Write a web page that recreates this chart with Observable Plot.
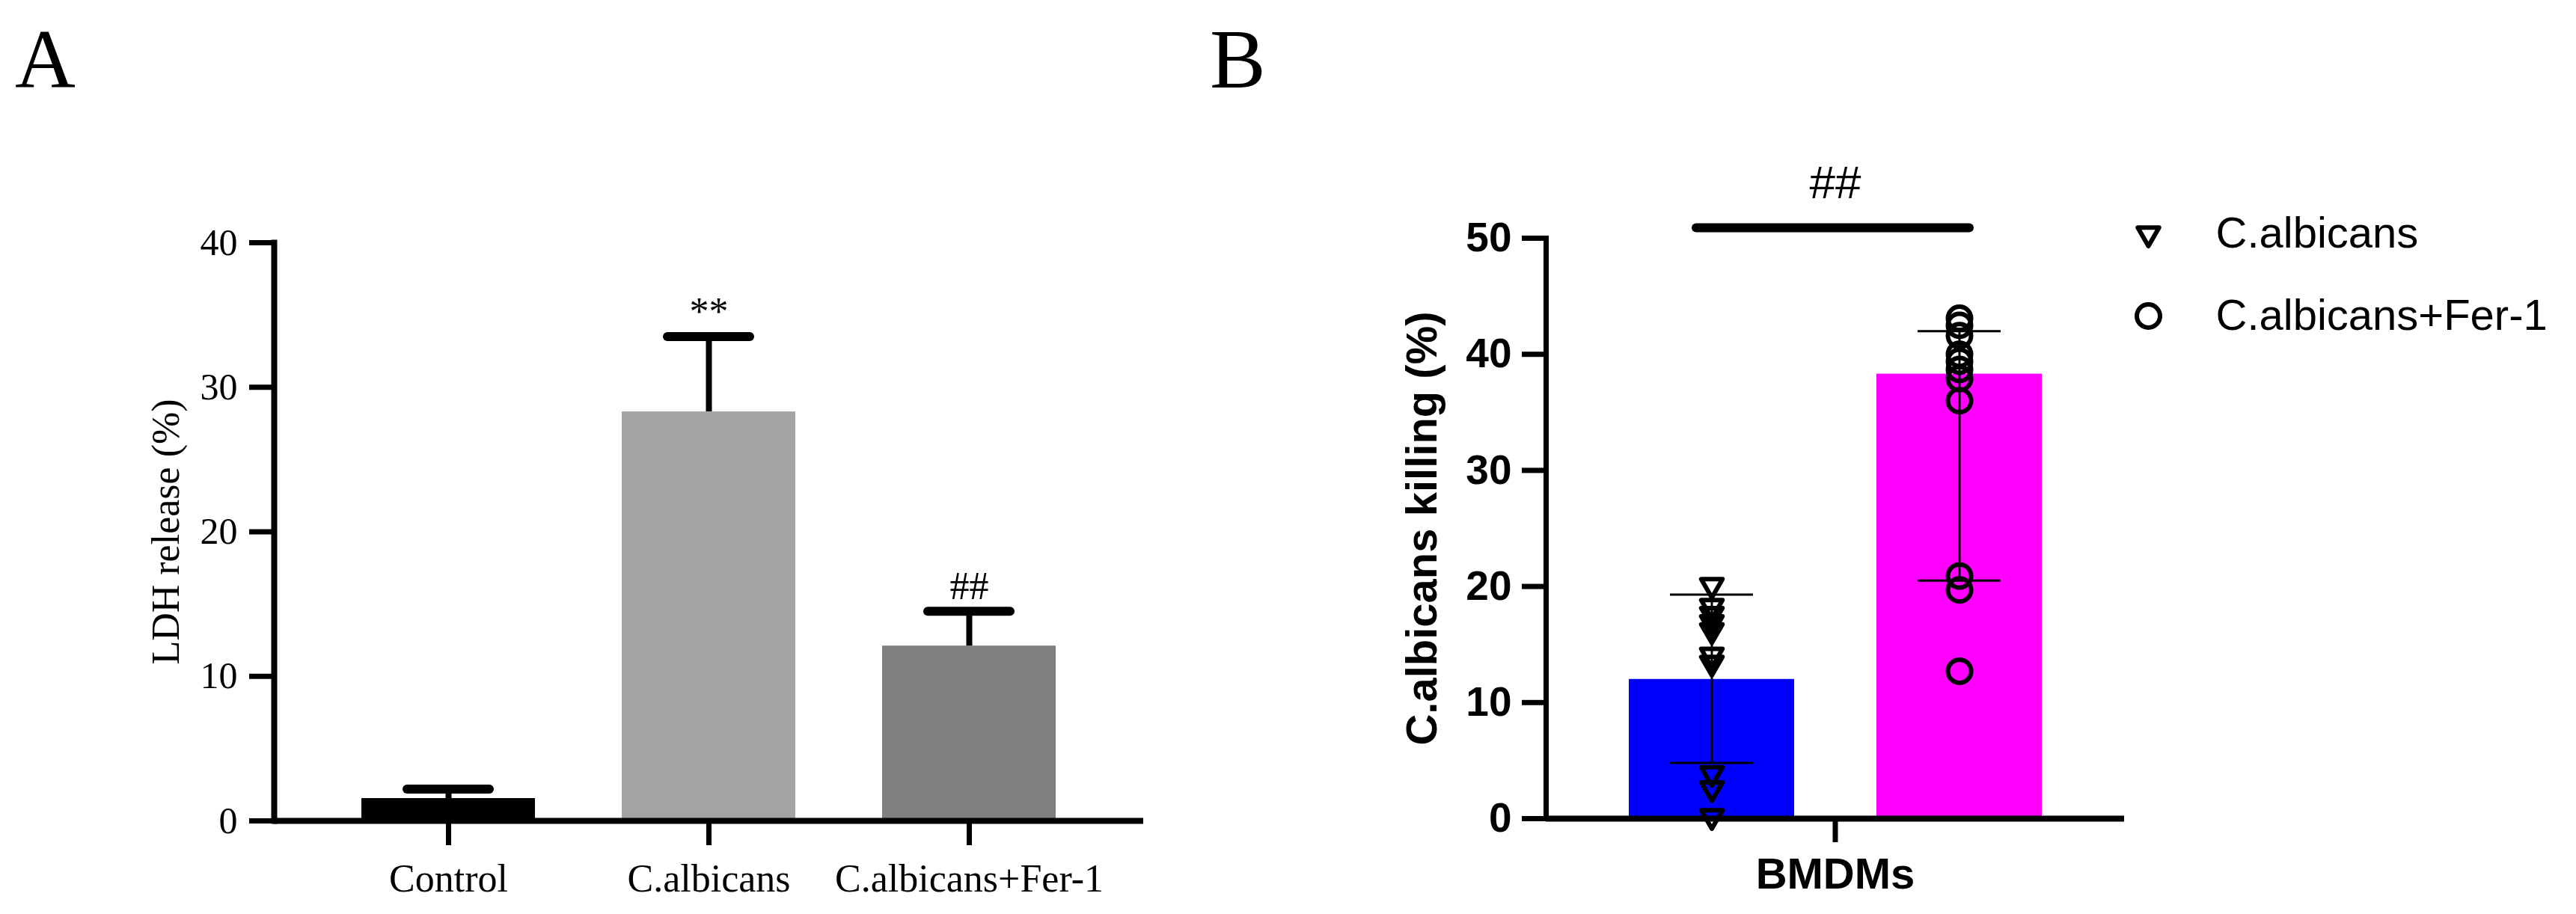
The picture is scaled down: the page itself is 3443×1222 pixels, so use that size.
<!DOCTYPE html>
<html>
<head>
<meta charset="utf-8">
<script src="https://cdn.jsdelivr.net/npm/d3@7"></script>
<script src="https://cdn.jsdelivr.net/npm/@observablehq/plot@0.6"></script>
<style>
  html, body { margin: 0; padding: 0; background: #fff; }
  #root { position: relative; width: 3443px; height: 1222px; background: #fff; overflow: hidden; }
  .panel { position: absolute; }
  .letter { position: absolute; font-family: "Liberation Serif", "Times New Roman", serif; font-size: 112px; line-height: 1; color: #000; }
</style>
</head>
<body>
<div id="root">
  <div class="letter" style="left:20px; top:23px;">A</div>
  <div class="letter" style="left:1617px; top:23px;">B</div>
  <div id="panelA" class="panel" style="left:0px; top:0px;"></div>
  <div id="panelB" class="panel" style="left:1700px; top:0px;"></div>
  <div id="legendB" class="panel" style="left:2820px; top:250px;"></div>
</div>
<script>
// ---------- Panel A data ----------
const groupsA = ["Control", "C.albicans", "C.albicans+Fer-1"];
const meanA = [1.55, 28.3, 12.1];
const hiA = [2.2, 33.5, 14.5];
const sigA = ["", "**", "##"];
const colorsA = ["#000000", "#a3a3a6", "#808080"];
const ticksA = [0, 10, 20, 30, 40];
const yLabelA = "LDH release (%)";

// ---------- Panel B data ----------
const cellB = "BMDMs";
const groupsB = ["C.albicans", "C.albicans+Fer-1"];
const meanB = [12.0, 38.3];
const loB = [4.8, 20.5];
const hiB = [19.3, 42.0];
const colorsB = ["#0000ff", "#ff00ff"];
const pointsTri = [20.1, 18.3, 17.6, 16.9, 16.2, 14.1, 13.4, 3.9, 2.6, 0.2];
const pointsCirc = [43.1, 42.5, 41.6, 40.0, 39.4, 38.7, 37.9, 36.0, 20.9, 19.7, 12.7];
const ticksB = [0, 10, 20, 30, 40, 50];
const sigBLabel = "##";
const sigBY = 50.9;
const yLabelB = "C.albicans killing (%)";

// ---------- tables ----------
const tableA = groupsA.map((g, i) => ({group: g, mean: meanA[i], hi: hiA[i], sig: sigA[i]}));
const tableB = groupsB.map((g, i) => ({cell: cellB, group: g, mean: meanB[i], lo: loB[i], hi: hiB[i]}));
const triPts = pointsTri.map(v => ({cell: cellB, group: groupsB[0], v}));
const circPts = pointsCirc.map(v => ({cell: cellB, group: groupsB[1], v}));
const sigB = [{cell: cellB, a: groupsB[0], b: groupsB[1], y: sigBY, label: sigBLabel}];

// downward open triangle symbol
const triDown = {
  draw(context, size) {
    const s = Math.sqrt(size / Math.PI);
    const w = s * 0.95, a = s * 0.55, b = s * 1.1;
    context.moveTo(-w, -a);
    context.lineTo(w, -a);
    context.lineTo(0, b);
    context.closePath();
  }
};

// ---------- Panel A ----------
const plotA = Plot.plot({
  width: 1560,
  height: 1222,
  marginLeft: 366,
  marginRight: 32,
  marginTop: 324,
  marginBottom: 125,
  style: {fontFamily: "Liberation Serif", fontSize: "50px", background: "transparent", overflow: "visible", color: "#000"},
  x: {domain: groupsA, padding: 1 / 3},
  y: {domain: [0, 40]},
  color: {domain: groupsA, range: colorsA},
  marks: [
    Plot.barY(tableA, {x: "group", y: "mean", fill: "group"}),
    Plot.ruleX(tableA, {x: "group", y1: "mean", y2: "hi", strokeWidth: 8}),
    Plot.tickY(tableA, {x: "group", y: "hi", strokeWidth: 12, strokeLinecap: "round", insetLeft: 61, insetRight: 61}),
    Plot.text(tableA.filter(d => d.sig), {x: "group", y: "hi", text: "sig", lineAnchor: "bottom", dy: -16, fontSize: 52}),
    Plot.ruleY([0], {strokeWidth: 8}),
    Plot.frame({anchor: "left", strokeWidth: 8}),
    Plot.axisY({ticks: ticksA, tickSize: 33, tickPadding: 16, strokeWidth: 7, label: null, fontSize: 50}),
    Plot.axisX({tickSize: 33, tickPadding: 25, strokeWidth: 7, label: null, fontSize: 52}),
    Plot.text([yLabelA], {text: d => d, frameAnchor: "left", textAnchor: "middle", rotate: -90, dx: -144, fontSize: 52})
  ]
});
document.getElementById("panelA").appendChild(plotA);

// ---------- Panel B ----------
const dotStyle = {stroke: "#000", strokeWidth: 6, fill: "none", strokeLinejoin: "round"};
const plotB = Plot.plot({
  width: 1160,
  height: 1222,
  marginLeft: 366,
  marginRight: 21,
  marginTop: 318,
  marginBottom: 128,
  style: {fontFamily: "Liberation Sans", fontSize: "58px", fontWeight: "bold", background: "transparent", overflow: "visible", color: "#000"},
  fx: {domain: [cellB], padding: 0},
  x: {domain: groupsB, padding: 1 / 3, axis: null},
  y: {domain: [0, 50]},
  color: {domain: groupsB, range: colorsB},
  marks: [
    Plot.barY(tableB, {fx: "cell", x: "group", y: "mean", fill: "group"}),
    Plot.ruleX(tableB, {fx: "cell", x: "group", y1: "lo", y2: "hi", strokeWidth: 3}),
    Plot.tickY(tableB, {fx: "cell", x: "group", y: "lo", strokeWidth: 3, insetLeft: 55, insetRight: 55}),
    Plot.tickY(tableB, {fx: "cell", x: "group", y: "hi", strokeWidth: 3, insetLeft: 55, insetRight: 55}),
    Plot.dot(triPts, {fx: "cell", x: "group", y: "v", symbol: triDown, r: 15, ...dotStyle}),
    Plot.dot(circPts, {fx: "cell", x: "group", y: "v", symbol: "circle", r: 15.5, ...dotStyle}),
    Plot.ruleY(sigB, {fx: "cell", y: "y", x1: "a", x2: "b", strokeWidth: 12, strokeLinecap: "round", insetLeft: 90, insetRight: 97}),
    Plot.text(sigB, {fx: "cell", y: "y", text: "label", lineAnchor: "bottom", dy: -40, fontWeight: "normal", fontSize: 62}),
    Plot.ruleY([0], {strokeWidth: 8}),
    Plot.frame({anchor: "left", strokeWidth: 7}),
    Plot.axisY({ticks: ticksB, tickSize: 32, tickPadding: 14, strokeWidth: 7, label: null, fontSize: 55}),
    Plot.axisFx({anchor: "bottom", tickSize: 32, tickPadding: 20, strokeWidth: 7, label: null}),
    Plot.text([yLabelB], {text: d => d, frameAnchor: "left", textAnchor: "middle", rotate: -90, dx: -165})
  ]
});
document.getElementById("panelB").appendChild(plotB);

// ---------- Legend B ----------
const legTable = groupsB.map(g => ({name: g}));
const legend = Plot.plot({
  width: 623,
  height: 220,
  marginLeft: 51,
  marginRight: 0,
  marginTop: 0,
  marginBottom: 0,
  style: {fontFamily: "Liberation Sans", fontSize: "58px", background: "transparent", overflow: "visible", color: "#000"},
  y: {type: "point", domain: groupsB, range: [62, 172], padding: 0, axis: null},
  marks: [
    Plot.dot(legTable.filter(d => d.name === groupsB[0]), {y: "name", frameAnchor: "left", symbol: triDown, r: 15, ...dotStyle}),
    Plot.dot(legTable.filter(d => d.name === groupsB[1]), {y: "name", frameAnchor: "left", symbol: "circle", r: 15.5, ...dotStyle}),
    Plot.text(legTable, {y: "name", text: "name", frameAnchor: "left", dx: 90, textAnchor: "start"})
  ]
});
document.getElementById("legendB").appendChild(legend);
</script>
</body>
</html>
